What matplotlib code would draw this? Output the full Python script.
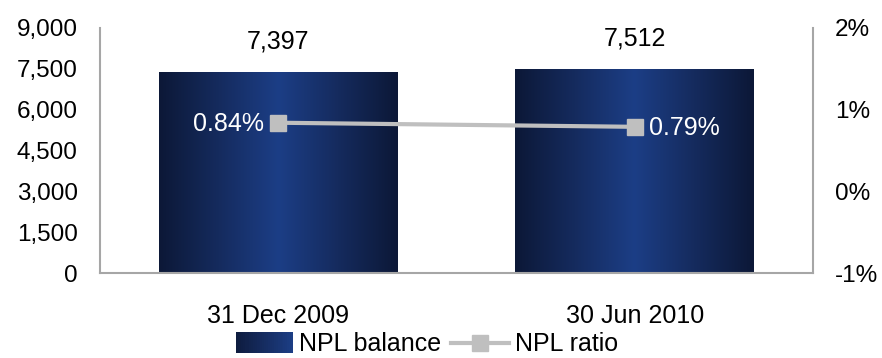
import numpy as np
import matplotlib
matplotlib.use("Agg")
import matplotlib.pyplot as plt
from matplotlib.colors import LinearSegmentedColormap
from matplotlib.legend_handler import HandlerBase
from matplotlib.lines import Line2D
from matplotlib.patches import Rectangle
from matplotlib.ticker import FuncFormatter, FixedLocator

plt.rcParams["font.family"] = ["Liberation Sans", "DejaVu Sans"]

periods = ["31 Dec 2009", "30 Jun 2010"]
npl_balance = [7397, 7512]
npl_ratio = [0.84, 0.79]  # percent

left_ticks = [0, 1500, 3000, 4500, 6000, 7500, 9000]
right_ticks = [-1, 0, 1, 2]

bar_cmap = LinearSegmentedColormap.from_list(
    "navy", ["#0c1837", "#152b5e", "#1c3e86", "#152b5e", "#0c1837"])
line_color = "#bfbfbf"
axis_color = "#a6a6a6"
FS = 18


class GradientHandler(HandlerBase):
    def create_artists(self, legend, orig_handle, xdescent, ydescent,
                       width, height, fontsize, trans):
        n = 30
        arts = []
        for i in range(n):
            r = Rectangle((-xdescent + width * i / n, -ydescent - 1), width / n + 0.3, height + 2,
                          facecolor=bar_cmap(0.05 + 0.45 * i / n), edgecolor="none",
                          transform=trans)
            arts.append(r)
        return arts


fig = plt.figure(figsize=(8.82, 3.58), dpi=100)
ax = fig.add_axes([0.1134, 0.2374, 0.8084, 0.6844])
ax2 = ax.twinx()

x = np.arange(len(periods))
bars = ax.bar(x, npl_balance, width=0.67, color="none", edgecolor="none", zorder=2)

grad = np.linspace(0, 1, 256).reshape(1, -1)
for rect, val in zip(bars, npl_balance):
    x0, w, h = rect.get_x(), rect.get_width(), rect.get_height()
    im = ax.imshow(grad, cmap=bar_cmap, aspect="auto",
                   extent=[x0, x0 + w, 0, h], zorder=2)
    im.set_clip_path(rect)
    ax.text(rect.get_x() + w / 2, h + 650, f"{val:,}", ha="center", va="bottom",
            fontsize=FS, color="black")

ax.set_xlim(-0.5, len(periods) - 0.5)
ax.set_ylim(0, 9000)
ax.yaxis.set_major_locator(FixedLocator(left_ticks))
ax.yaxis.set_major_formatter(FuncFormatter(lambda v, p: f"{int(v):,}"))
ax.set_xticks(x)
ax.set_xticklabels(periods)
ax.tick_params(axis="both", length=0, labelsize=FS, colors="black")
ax.tick_params(axis="y", pad=16, labelsize=17.5)
ax.tick_params(axis="x", pad=22)

ax2.plot(x, npl_ratio, color=line_color, linewidth=3, marker="s", markersize=11,
         zorder=3)
ax2.set_ylim(-1, 2)
ax2.yaxis.set_major_locator(FixedLocator(right_ticks))
ax2.yaxis.set_major_formatter(FuncFormatter(lambda v, p: f"{int(v)}%"))
ax2.tick_params(axis="y", length=0, labelsize=17.5, pad=16)

offsets = [(-10, "right"), (10, "left")]
for xi, val, (dx, ha) in zip(x, npl_ratio, offsets):
    ax2.annotate(f"{val:.2f}%", (xi, val), xytext=(dx, -1), textcoords="offset points",
                 ha=ha, va="center", color="white", fontsize=FS)

ax.spines["top"].set_visible(False)
ax2.spines["top"].set_visible(False)
for side in ("left", "bottom"):
    ax.spines[side].set_color(axis_color)
    ax.spines[side].set_linewidth(1.5)
ax2.spines["right"].set_color(axis_color)
ax2.spines["right"].set_linewidth(1.5)
ax2.spines["left"].set_visible(False)
ax2.spines["bottom"].set_visible(False)
ax.spines["right"].set_visible(False)

handles = [Rectangle((0, 0), 1, 1),
           Line2D([], [], color=line_color, linewidth=3, marker="s", markersize=11)]
fig.legend(handles, ["NPL balance", "NPL ratio"], loc="lower center",
           bbox_to_anchor=(0.484, -0.058), ncol=2, frameon=False, fontsize=FS,
           handler_map={Rectangle: GradientHandler()}, handlelength=2.3,
           handletextpad=0.25, columnspacing=0.4)

fig.savefig("out.png", dpi=100)
